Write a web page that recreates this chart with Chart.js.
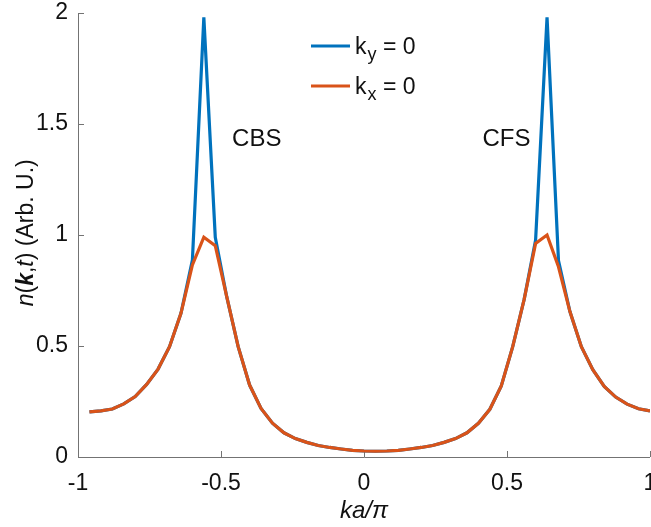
<!DOCTYPE html>
<html>
<head>
<meta charset="utf-8">
<script src="https://cdn.jsdelivr.net/npm/chart.js@4.4.1/dist/chart.umd.min.js"></script>
<style>
  html, body { margin: 0; padding: 0; background: #fff; }
</style>
</head>
<body>
<canvas id="chart" width="651" height="527"></canvas>
<script>
// k a / pi grid (step 0.04)
const kValues = [
  -0.96, -0.92, -0.88, -0.84, -0.80, -0.76, -0.72, -0.68, -0.64, -0.60,
  -0.56, -0.52, -0.48, -0.44, -0.40, -0.36, -0.32, -0.28, -0.24, -0.20,
  -0.16, -0.12, -0.08, -0.04, 0.00, 0.04, 0.08, 0.12, 0.16, 0.20,
  0.24, 0.28, 0.32, 0.36, 0.40, 0.44, 0.48, 0.52, 0.56, 0.60,
  0.64, 0.68, 0.72, 0.76, 0.80, 0.84, 0.88, 0.92, 0.96, 1.00
];

// n(k,t) along ky = 0
const nKy0 = [
  0.203, 0.208, 0.216, 0.239, 0.272, 0.327, 0.396, 0.497, 0.647, 0.887,
  1.980, 0.990, 0.722, 0.497, 0.324, 0.219, 0.152, 0.109, 0.083, 0.066,
  0.052, 0.043, 0.036, 0.030, 0.027, 0.026, 0.027, 0.030, 0.036, 0.043,
  0.052, 0.066, 0.083, 0.109, 0.152, 0.215, 0.320, 0.497, 0.710, 0.977,
  1.980, 0.885, 0.655, 0.497, 0.393, 0.318, 0.270, 0.238, 0.217, 0.208
];

// n(k,t) along kx = 0
const nKx0 = [
  0.203, 0.208, 0.216, 0.239, 0.272, 0.327, 0.396, 0.497, 0.647, 0.865,
  0.990, 0.952, 0.722, 0.497, 0.324, 0.219, 0.152, 0.109, 0.083, 0.066,
  0.052, 0.043, 0.036, 0.030, 0.027, 0.026, 0.027, 0.030, 0.036, 0.043,
  0.052, 0.066, 0.083, 0.109, 0.152, 0.215, 0.320, 0.497, 0.710, 0.962,
  1.000, 0.857, 0.655, 0.497, 0.393, 0.318, 0.270, 0.238, 0.217, 0.208
];

const xTicks = [-1, -0.5, 0, 0.5, 1];
const xTickLabels = ["-1", "-0.5", "0", "0.5", "1"];
const yTicks = [0, 0.5, 1, 1.5, 2];
const yTickLabels = ["0", "0.5", "1", "1.5", "2"];
const peakLabels = ["CBS", "CFS"];
const peakLabelK = [-0.375, 0.498];
const peakLabelN = [1.43, 1.43];

const BLUE = "#0072BD";
const ORANGE = "#D95319";
const FONT = '"Liberation Sans", Arial, Helvetica, sans-serif';
const AXIS = "#737373";
const TEXT = "#111111";

// draw a row of [text, style] pieces starting at x
function drawPieces(ctx, pieces, x, y, size) {
  pieces.forEach(([txt, style]) => {
    ctx.font = style + " " + size + "px " + FONT;
    ctx.fillText(txt, x, y);
    x += ctx.measureText(txt).width;
  });
}

function piecesWidth(ctx, pieces, size) {
  let w = 0;
  pieces.forEach(([txt, style]) => {
    ctx.font = style + " " + size + "px " + FONT;
    w += ctx.measureText(txt).width;
  });
  return w;
}

const axesPlugin = {
  id: "matlabAxes",
  beforeDatasetsDraw(chart) {
    const ctx = chart.ctx;
    const { left, right, top, bottom } = chart.chartArea;
    const xs = chart.scales.x;
    const ys = chart.scales.y;
    ctx.save();
    ctx.strokeStyle = AXIS;
    ctx.lineWidth = 1;
    // axis lines (box off)
    ctx.beginPath();
    ctx.moveTo(left + 0.5, top);
    ctx.lineTo(left + 0.5, bottom + 0.5);
    ctx.lineTo(right, bottom + 0.5);
    ctx.stroke();
    // inward ticks
    ctx.beginPath();
    xTicks.forEach((v) => {
      const px = Math.round(xs.getPixelForValue(v)) + 0.5;
      ctx.moveTo(px, bottom);
      ctx.lineTo(px, bottom - 6);
    });
    yTicks.forEach((v) => {
      const py = Math.round(ys.getPixelForValue(v)) + 0.5;
      ctx.moveTo(left, py);
      ctx.lineTo(left + 6, py);
    });
    ctx.stroke();
    ctx.restore();
  },
  afterDraw(chart) {
    const ctx = chart.ctx;
    const { left, bottom } = chart.chartArea;
    const xs = chart.scales.x;
    const ys = chart.scales.y;
    ctx.save();
    ctx.fillStyle = TEXT;
    ctx.font = "23px " + FONT;

    // tick labels
    ctx.textAlign = "center";
    ctx.textBaseline = "middle";
    xTicks.forEach((v, i) => {
      ctx.fillText(xTickLabels[i], xs.getPixelForValue(v), bottom + 27);
    });
    ctx.textAlign = "right";
    yTicks.forEach((v, i) => {
      ctx.fillText(yTickLabels[i], left - 10, ys.getPixelForValue(v));
    });

    // x axis title
    ctx.textAlign = "center";
    ctx.font = "italic 24px " + FONT;
    ctx.fillText("ka/\u03c0", xs.getPixelForValue(0), 511);

    // y axis title
    const yTitle = [["n", "italic"], ["(", "normal"], ["k", "italic bold"], [",", "normal"],
                    ["t", "italic"], [")", "normal"], [" (Arb. U.)", "normal"]];
    ctx.textAlign = "left";
    const w = piecesWidth(ctx, yTitle, 23);
    ctx.save();
    ctx.translate(27, ys.getPixelForValue(1.01));
    ctx.rotate(-Math.PI / 2);
    drawPieces(ctx, yTitle, -w / 2, 0, 23);
    ctx.restore();

    // peak annotations
    ctx.textAlign = "center";
    ctx.font = "24px " + FONT;
    peakLabels.forEach((lab, i) => {
      ctx.fillText(lab, xs.getPixelForValue(peakLabelK[i]), ys.getPixelForValue(peakLabelN[i]));
    });

    // legend
    const legend = [
      { color: BLUE, sub: "y", y: 46 },
      { color: ORANGE, sub: "x", y: 86 }
    ];
    ctx.textAlign = "left";
    ctx.textBaseline = "alphabetic";
    legend.forEach((item) => {
      ctx.strokeStyle = item.color;
      ctx.lineWidth = 3;
      ctx.beginPath();
      ctx.moveTo(311, item.y);
      ctx.lineTo(350, item.y);
      ctx.stroke();
      let x = 355;
      ctx.font = "23px " + FONT;
      ctx.fillText("k", x, item.y + 8);
      x += ctx.measureText("k").width + 1;
      ctx.font = "18px " + FONT;
      ctx.fillText(item.sub, x, item.y + 14);
      x += ctx.measureText(item.sub).width;
      ctx.font = "23px " + FONT;
      ctx.fillText(" = 0", x, item.y + 8);
    });
    ctx.restore();
  }
};

const toPoints = (ys) => kValues.map((k, i) => ({ x: k, y: ys[i] }));

new Chart(document.getElementById("chart"), {
  type: "line",
  data: {
    datasets: [
      {
        label: "ky = 0",
        data: toPoints(nKy0),
        borderColor: BLUE,
        borderWidth: 3.2,
        pointRadius: 0,
        tension: 0,
        order: 2
      },
      {
        label: "kx = 0",
        data: toPoints(nKx0),
        borderColor: ORANGE,
        borderWidth: 3.2,
        pointRadius: 0,
        tension: 0,
        order: 1
      }
    ]
  },
  options: {
    responsive: false,
    animation: false,
    devicePixelRatio: 1,
    layout: { padding: { left: 78, right: 1, top: 13, bottom: 70 } },
    plugins: {
      legend: { display: false },
      tooltip: { enabled: false }
    },
    scales: {
      x: { type: "linear", min: -1, max: 1, display: false },
      y: { type: "linear", min: 0, max: 2, display: false }
    }
  },
  plugins: [axesPlugin]
});
</script>
</body>
</html>
